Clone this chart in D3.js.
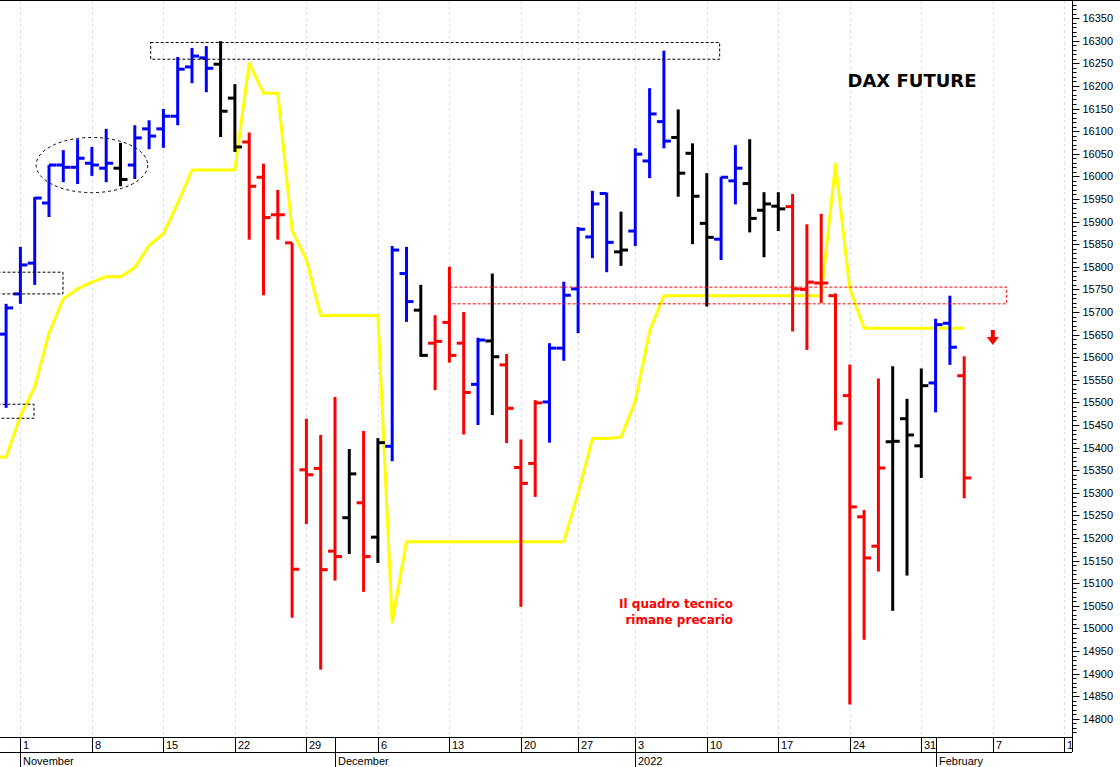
<!DOCTYPE html>
<html><head><meta charset="utf-8">
<script src="https://cdn.jsdelivr.net/npm/d3@7"></script>
<style>body{margin:0;background:#fff}svg{display:block}</style>
</head><body>
<svg id="c" width="1120" height="767"></svg>
<script>
// ---- data ----
const barDates = ["2021-10-29","2021-11-01","2021-11-02","2021-11-03","2021-11-04","2021-11-05","2021-11-08","2021-11-09","2021-11-10","2021-11-11","2021-11-12","2021-11-15","2021-11-16","2021-11-17","2021-11-18","2021-11-19","2021-11-22","2021-11-23","2021-11-24","2021-11-25","2021-11-26","2021-11-29","2021-11-30","2021-12-01","2021-12-02","2021-12-03","2021-12-06","2021-12-07","2021-12-08","2021-12-09","2021-12-10","2021-12-13","2021-12-14","2021-12-15","2021-12-16","2021-12-17","2021-12-20","2021-12-21","2021-12-22","2021-12-23","2021-12-27","2021-12-28","2021-12-29","2021-12-30","2022-01-03","2022-01-04","2022-01-05","2022-01-06","2022-01-07","2022-01-10","2022-01-11","2022-01-12","2022-01-13","2022-01-14","2022-01-17","2022-01-18","2022-01-19","2022-01-20","2022-01-21","2022-01-24","2022-01-25","2022-01-26","2022-01-27","2022-01-28","2022-01-31","2022-02-01","2022-02-02","2022-02-03"];
const openV  = [15651,15740,15808,15941,16025,16020,16029,16018,16018,16025,16105,16105,16133,16242,16262,16248,16173,16076,15998,15915,15853,15351,15354,15171,15245,15278,15202,15403,15785,15704,15631,15677,15631,15540,15636,15583,15356,15365,15501,15620,15751,15866,15962,15833,15879,16034,16121,16086,16051,15896,15861,15990,15984,15925,15934,15933,15750,15764,15736,15515,15247,15182,15413,15464,15404,15543,15675,15559];
const highV  = [15718,15844,15954,16025,16058,16082,16065,16105,16074,16113,16124,16149,16264,16284,16288,16299,16204,16097,16028,15970,15853,15464,15428,15512,15397,15437,15421,15846,15844,15760,15693,15800,15700,15643,15785,15607,15418,15505,15631,15767,15888,15968,15964,15922,16062,16195,16278,16148,16073,16007,15999,16069,16082,15965,15965,15961,15894,15917,15741,15584,15262,15553,15580,15508,15575,15685,15736,15602];
const lowV   = [15488,15718,15760,15910,15987,15983,16001,15987,15978,15994,16060,16063,16113,16206,16186,16087,16054,15860,15737,15860,15024,15231,14909,15106,15165,15081,15145,15370,15678,15601,15527,15588,15429,15450,15472,15410,15048,15291,15411,15592,15653,15819,15788,15802,15846,15996,16062,15955,15850,15712,15815,15938,15876,15821,15879,15657,15616,15720,15438,14832,14975,15126,15039,15117,15333,15478,15583,15288];
const closeV = [15709,15804,15952,16025,16020,16040,16025,16029,15993,16085,16089,16133,16237,16266,16239,16144,16065,15978,15909,15915,15131,15340,15130,15159,15342,15159,15411,15837,15723,15604,15635,15604,15522,15638,15601,15487,15321,15499,15620,15737,15883,15939,15854,15837,16049,16138,16078,16007,15956,15865,15998,16018,15907,15939,15928,15751,15766,15764,15454,15269,15156,15355,15414,15428,15537,15672,15622,15333];
const barColor = ["b","b","b","b","b","b","b","b","k","b","b","b","b","b","b","k","k","r","r","r","r","r","r","r","k","r","k","b","b","k","r","r","r","b","k","r","r","r","b","b","b","b","b","k","b","b","b","k","k","k","b","b","k","k","k","r","r","r","r","r","r","r","k","k","k","b","b","r"];
// yellow line, one value per trading day from 2021-10-28 to 2022-02-03
const yellowV = [15379,15379,15470,15534,15653,15729,15751,15766,15778,15778,15798,15847,15873,15940,16014,16014,16014,16014,16250,16184,16184,15880,15816,15692,15692,15692,15692,15692,15014,
 15192,15192,15192,15192,15192,15192,15192,15192,15192,15192,15192,15192,
 15299,15420,15420,15423,15503,15658,15736,
 15736,15736,15736,15736,15736,15736,15736,15736,15736,15736,15736,
 16027,15752,
 15664,15664,15664,15664,15664,15664,15664,15664];
const holidays = ["2021-12-24","2021-12-31"];
const dayTickDates = ["2021-11-01","2021-11-08","2021-11-15","2021-11-22","2021-11-29","2021-12-06","2021-12-13","2021-12-20","2021-12-27","2022-01-03","2022-01-10","2022-01-17","2022-01-24","2022-01-31","2022-02-07","2022-02-14"];
const dayTickLabels = ["1","8","15","22","29","6","13","20","27","3","10","17","24","31","7","1"];
const monthDates = ["2021-11-01","2021-12-01","2022-01-03","2022-02-01"];
const monthLabels = ["November","December","2022","February"];
const yMin = 14800, yMax = 16350, yStep = 50;
// annotations [start date index, end date index, low value, high value]
const blackBoxes = [[11.11,50.9,16259,16296],[-1,4.98,15740,15788],[-1,2.95,15465,15496]];
const redBox = [32,70.97,15718,15755];
const ellipse = [7.0,16025,3.9,61]; // centre idx, centre value, radius idx, radius value

// ---- trading calendar ----
const fmt = d3.timeFormat("%Y-%m-%d");
const tradingDays = d3.timeDay.range(new Date(2021,9,28), new Date(2022,1,16))
  .filter(d => d.getDay()!==0 && d.getDay()!==6 && !holidays.includes(fmt(d))).map(fmt);
const idx = s => tradingDays.indexOf(s);

const svg = d3.select("#c");
const x = d3.scaleLinear().domain([2,75]).range([20.4,1064.3]);
const y = d3.scaleLinear().domain([14760,16390]).range([737,0]);
const colors = {b:"#0000ff", r:"#ff0000", k:"#000000"};

// grid
svg.append("g").selectAll("line").data(dayTickDates).join("line")
  .attr("x1",d=>Math.round(x(idx(d)))+0.5).attr("x2",d=>Math.round(x(idx(d)))+0.5).attr("y1",0).attr("y2",737)
  .attr("stroke","#dcdcf6").attr("stroke-width",1).attr("stroke-dasharray","3,3");

// yellow line
svg.append("path").datum(yellowV)
  .attr("d", d3.line().x((d,i)=>x(i)).y(d=>y(d)))
  .attr("fill","none").attr("stroke","#ffff00").attr("stroke-width",3).attr("stroke-linejoin","round");

// bars
const bars = svg.append("g").selectAll("g").data(barDates).join("g")
  .attr("stroke",(d,i)=>colors[barColor[i]]).attr("stroke-width",3);
bars.append("line").attr("x1",d=>x(idx(d))).attr("x2",d=>x(idx(d)))
  .attr("y1",(d,i)=>y(highV[i])).attr("y2",(d,i)=>y(lowV[i]));
bars.append("line").attr("x1",d=>x(idx(d))-7).attr("x2",d=>x(idx(d)))
  .attr("y1",(d,i)=>y(openV[i])).attr("y2",(d,i)=>y(openV[i]));
bars.append("line").attr("x1",d=>x(idx(d))).attr("x2",d=>x(idx(d))+7)
  .attr("y1",(d,i)=>y(closeV[i])).attr("y2",(d,i)=>y(closeV[i]));

// annotations
blackBoxes.forEach(b=>{
  svg.append("rect").attr("x",x(b[0])).attr("y",y(b[3])).attr("width",x(b[1])-x(b[0])).attr("height",y(b[2])-y(b[3]))
    .attr("fill","none").attr("stroke","#000").attr("stroke-width",1).attr("stroke-dasharray","3,2");
});
svg.append("rect").attr("x",x(redBox[0])).attr("y",y(redBox[3])).attr("width",x(redBox[1])-x(redBox[0])).attr("height",y(redBox[2])-y(redBox[3]))
  .attr("fill","none").attr("stroke","#ff0000").attr("stroke-width",1).attr("stroke-dasharray","3,2");
svg.append("ellipse").attr("cx",x(ellipse[0])).attr("cy",y(ellipse[1]))
  .attr("rx",x(ellipse[0]+ellipse[2])-x(ellipse[0])).attr("ry",y(ellipse[1]-ellipse[3])-y(ellipse[1]))
  .attr("fill","none").attr("stroke","#000").attr("stroke-width",1).attr("stroke-dasharray","3,3");

// arrow
const ax = x(idx("2022-02-07"));
svg.append("rect").attr("x",ax-2).attr("y",330).attr("width",4).attr("height",8).attr("fill","#ff0000");
svg.append("path").attr("d",`M${ax-6},337 L${ax+6},337 L${ax},345 Z`).attr("fill","#ff0000");

// texts
svg.append("text").attr("x",912).attr("y",87).attr("text-anchor","middle")
  .attr("font-family","DejaVu Sans, sans-serif").attr("font-weight","bold").attr("font-size",18).text("DAX FUTURE");
svg.append("text").attr("x",733).attr("y",608).attr("text-anchor","end").attr("fill","#ff0000")
  .attr("font-family","DejaVu Sans, sans-serif").attr("font-weight","bold").attr("font-size",12).text("Il quadro tecnico");
svg.append("text").attr("x",733).attr("y",624).attr("text-anchor","end").attr("fill","#ff0000")
  .attr("font-family","DejaVu Sans, sans-serif").attr("font-weight","bold").attr("font-size",12).text("rimane precario");

// borders
svg.append("line").attr("x1",0).attr("x2",1120).attr("y1",0.5).attr("y2",0.5).attr("stroke","#000");

// right axis
const majors = d3.range(yMin, yMax+1, yStep);
const minors = d3.range(14770, 16390, 10);
const ra = svg.append("g").attr("transform","translate(1072.5,0)");
ra.append("line").attr("x1",0).attr("x2",0).attr("y1",0).attr("y2",752).attr("stroke","#000");
ra.selectAll(".mi").data(minors).join("line").attr("x1",0).attr("x2",4)
  .attr("y1",d=>Math.round(y(d))+0.5).attr("y2",d=>Math.round(y(d))+0.5).attr("stroke","#000");
ra.selectAll(".ma").data(majors).join("line").attr("x1",0).attr("x2",7)
  .attr("y1",d=>Math.round(y(d))+0.5).attr("y2",d=>Math.round(y(d))+0.5).attr("stroke","#000");
ra.selectAll("text").data(majors).join("text").attr("x",10).attr("y",d=>y(d)+4)
  .attr("font-family","Liberation Sans, Arial, sans-serif").attr("font-size",11).attr("fill","#000").text(d=>d);

// bottom axis
const ba = svg.append("g");
ba.append("line").attr("x1",0).attr("x2",1072).attr("y1",737.5).attr("y2",737.5).attr("stroke","#000");
ba.append("line").attr("x1",0).attr("x2",1072).attr("y1",752.5).attr("y2",752.5).attr("stroke","#000");
ba.selectAll(".dt").data(dayTickDates).join("line")
  .attr("x1",d=>Math.round(x(idx(d)))+0.5).attr("x2",d=>Math.round(x(idx(d)))+0.5).attr("y1",737).attr("y2",752).attr("stroke","#000");
ba.selectAll(".dl").data(dayTickDates).join("text")
  .attr("x",d=>Math.round(x(idx(d)))+3).attr("y",749)
  .attr("font-family","Liberation Sans, Arial, sans-serif").attr("font-size",11).text((d,i)=>dayTickLabels[i]);
ba.selectAll(".mt").data(monthDates).join("line")
  .attr("x1",d=>Math.round(x(idx(d)))+0.5).attr("x2",d=>Math.round(x(idx(d)))+0.5).attr("y1",737).attr("y2",767).attr("stroke","#000");
ba.selectAll(".ml").data(monthDates).join("text")
  .attr("x",d=>Math.round(x(idx(d)))+3).attr("y",765)
  .attr("font-family","Liberation Sans, Arial, sans-serif").attr("font-size",11).text((d,i)=>monthLabels[i]);
</script>
</body></html>
